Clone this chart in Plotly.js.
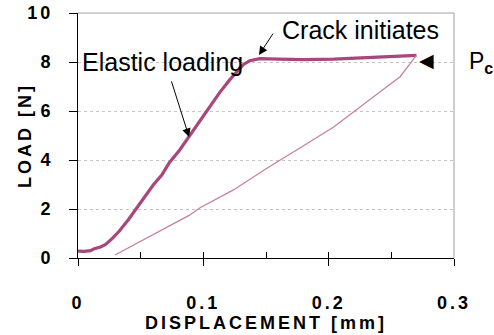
<!DOCTYPE html>
<html>
<head>
<meta charset="utf-8">
<script src="https://cdn.plot.ly/plotly-3.0.1.min.js"></script>
<style>
  html, body { margin: 0; padding: 0; background: #fff; }
  #chart { width: 494px; height: 335px; }
  .xtick text, .ytick text, .g-xtitle text, .g-ytitle text { letter-spacing: 3px; }
  .g-ytitle { transform: translate(9px, 0px); }
</style>
</head>
<body>
<div id="chart"></div>
<script>
// Loading branch (displacement mm, load N)
const loadX = [0.000, 0.005, 0.010, 0.013, 0.018, 0.022, 0.027, 0.033, 0.040, 0.047, 0.053, 0.060, 0.067, 0.073, 0.081, 0.089, 0.097, 0.105, 0.113, 0.121, 0.127, 0.132, 0.137, 0.145, 0.160, 0.180, 0.204, 0.220, 0.241, 0.258, 0.270];
const loadY = [0.28, 0.27, 0.30, 0.38, 0.45, 0.55, 0.78, 1.10, 1.55, 2.05, 2.50, 2.98, 3.40, 3.90, 4.40, 5.00, 5.60, 6.20, 6.75, 7.27, 7.62, 7.90, 8.05, 8.14, 8.12, 8.10, 8.12, 8.15, 8.22, 8.25, 8.27];
// Unloading branch
const unloadX = [0.270, 0.267, 0.262, 0.257, 0.244, 0.230, 0.204, 0.177, 0.151, 0.124, 0.097, 0.089, 0.060, 0.0295];
const unloadY = [8.27, 8.08, 7.75, 7.40, 6.90, 6.37, 5.35, 4.49, 3.67, 2.78, 2.04, 1.75, 0.95, 0.12];

const xTickVals = [0, 0.1, 0.2, 0.3];
const xTickText = ['0', '0.1', '0.2', '0.3'];
const yTickVals = [0, 2, 4, 6, 8, 10];
const yTickText = ['0', '2', '4', '6', '8', '10'];

const FONT = 'Liberation Sans, Arial, sans-serif';

const traces = [
  { x: loadX, y: loadY, type: 'scatter', mode: 'lines',
    line: { color: '#a9467c', width: 3.2 }, hoverinfo: 'skip' },
  { x: unloadX, y: unloadY, type: 'scatter', mode: 'lines', xaxis: 'x2',
    line: { color: '#c97ba3', width: 1.2 }, hoverinfo: 'skip' }
];

const layout = {
  width: 494, height: 335,
  margin: { l: 78, r: 40, t: 13, b: 77 },
  paper_bgcolor: '#fff', plot_bgcolor: '#fff',
  showlegend: false,
  font: { family: FONT, color: '#000' },
  xaxis: {
    range: [0, 0.3], fixedrange: true,
    tickvals: xTickVals, ticktext: xTickText,
    ticks: 'outside', ticklen: 7, tickcolor: '#000', tickwidth: 1,
    showline: true, linecolor: '#000', linewidth: 1,
    showgrid: false, zeroline: false,
    tickfont: { family: FONT, size: 18, weight: 'bold' },
    ticklabelstandoff: 21,
    title: { text: 'DISPLACEMENT [mm]', font: { family: FONT, size: 18, weight: 'bold' }, standoff: 2 }
  },
  xaxis2: {
    range: [0, 0.3], fixedrange: true, overlaying: 'x', side: 'bottom',
    dtick: 0.05, tick0: 0, ticks: 'inside', ticklen: 6, tickcolor: '#000',
    showticklabels: false, showline: false, showgrid: false, zeroline: false
  },
  yaxis: {
    range: [0, 10], fixedrange: true,
    tickvals: yTickVals, ticktext: yTickText,
    ticks: 'outside', ticklen: 8, tickcolor: '#000',
    showline: true, linecolor: '#000', linewidth: 1,
    showgrid: true, gridcolor: '#c4c4c4', griddash: 'dot', gridwidth: 1,
    zeroline: false,
    tickfont: { family: FONT, size: 18, weight: 'bold' },
    ticklabelstandoff: 12,
    title: { text: 'LOAD [N]', font: { family: FONT, size: 18, weight: 'bold' }, standoff: 0 }
  },
  shapes: [
    { type: 'line', xref: 'paper', yref: 'paper', x0: 0, x1: 1, y0: 1, y1: 1,
      line: { color: '#a0a0a0', width: 1 } },
    { type: 'line', xref: 'paper', yref: 'paper', x0: 1, x1: 1, y0: 0, y1: 1,
      line: { color: '#a0a0a0', width: 1 } }
  ],
  annotations: [
    { xref: 'x', yref: 'y', x: 0.0678, y: 8.0, text: 'Elastic loading', showarrow: false,
      font: { family: FONT, size: 25, color: '#000' } },
    { xref: 'x', yref: 'y', axref: 'x', ayref: 'y', x: 0.0886, y: 4.94, ax: 0.0742, ay: 7.27,
      text: '', showarrow: true, arrowhead: 2, arrowsize: 1.7, arrowwidth: 1, arrowcolor: '#000' },
    { xref: 'x', yref: 'y', x: 0.2255, y: 9.3, text: 'Crack initiates', showarrow: false,
      font: { family: FONT, size: 25, color: '#000' } },
    { xref: 'x', yref: 'y', axref: 'x', ayref: 'y', x: 0.1444, y: 8.29, ax: 0.1564, ay: 9.22,
      text: '', showarrow: true, arrowhead: 2, arrowsize: 1.7, arrowwidth: 1, arrowcolor: '#000' },
    { xref: 'paper', yref: 'y', x: 0.952, y: 8.08, text: '\u25C0', showarrow: false,
      font: { family: 'DejaVu Sans', size: 19, color: '#000' } },
    { xref: 'paper', yref: 'y', x: 1.035, xanchor: 'left', y: 8.0, text: 'P<sub><b>c</b></sub>', showarrow: false,
      font: { family: FONT, size: 23, color: '#000' } }
  ]
};

Plotly.newPlot('chart', traces, layout, { staticPlot: true, displayModeBar: false });
</script>
</body>
</html>
